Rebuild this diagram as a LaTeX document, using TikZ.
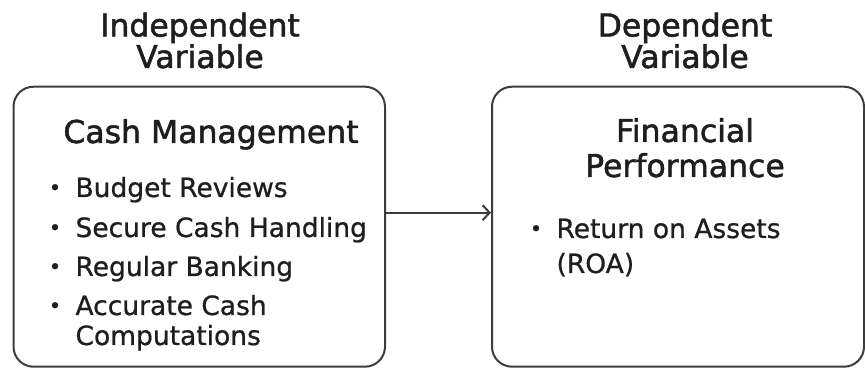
\documentclass[tikz,border=0pt]{standalone}
\usepackage{fontspec}
\setmainfont{DejaVu Sans}[FakeBold=0.8]
\newfontfamily\headfont{DejaVu Sans}[FakeBold=1.6]
\usetikzlibrary{arrows.meta}
\definecolor{ink}{HTML}{1E1E1E}
\definecolor{edge}{HTML}{3C3C3C}
\tikzset{
  box/.style={draw=edge, line width=2pt, rounded corners=20pt, inner sep=0pt},
  head/.style={text=ink, font=\headfont\fontsize{31.5}{34}\selectfont, anchor=base, align=center},
  item/.style={text=ink, font=\fontsize{26.5}{30}\selectfont, anchor=base west},
  dot/.style={text=ink, font=\fontsize{21}{24}\selectfont, anchor=base},
  conn/.style={draw=edge, line width=2pt, -{Straight Barb[length=7pt,width=15pt,line width=2pt]}}
}
\begin{document}
\begin{tikzpicture}[x=1pt,y=1pt]
\useasboundingbox (0,0) rectangle (865,369);
% boxes
\node[box, minimum width=371.5pt, minimum height=280pt] (left) at (199.25,142.3) {};
\node[box, minimum width=372pt, minimum height=280pt] (right) at (678,142.3) {};
% titles
\node[head] (t1) at (200,332.5) {Independent};
\node[head] (t2) at (200,301) {Variable};
\node[head] (t3) at (685,332.5) {Dependent};
\node[head] (t4) at (685,301) {Variable};
% left content
\node[head] (lh) at (211,226) {Cash Management};
\node[dot] (b1) at (55,174) {•};
\node[item] (l1) at (72,172) {Budget Reviews};
\node[dot] (b2) at (55,134) {•};
\node[item] (l2) at (72,132) {Secure Cash Handling};
\node[dot] (b3) at (55,95) {•};
\node[item] (l3) at (72,93) {Regular Banking};
\node[dot] (b4) at (55,56) {•};
\node[item] (l4) at (72,54) {Accurate Cash};
\node[item] (l5) at (72,24) {Computations};
% right content
\node[head] (rh1) at (685,227) {Financial};
\node[head] (rh2) at (685,192) {Performance};
\node[dot] (b5) at (536,133) {•};
\node[item] (r1) at (553,131) {Return on Assets};
\node[item] (r2) at (553,96) {(ROA)};
% connector
\coordinate (ay) at (0,156.3);
\draw[conn] (left.east |- ay) -- (right.west |- ay);
\end{tikzpicture}
\end{document}
